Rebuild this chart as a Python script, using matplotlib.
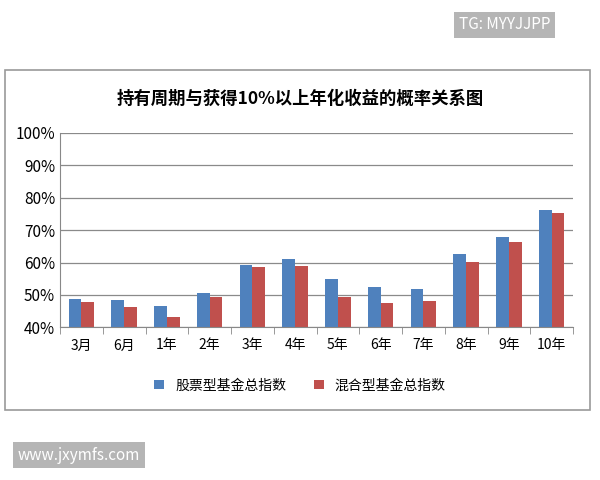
import numpy as np
import matplotlib.pyplot as plt
from matplotlib.patches import Rectangle

plt.rcParams['font.family'] = ['Noto Sans CJK SC', 'DejaVu Sans']

periods = ['3月', '6月', '1年', '2年', '3年', '4年', '5年', '6年', '7年', '8年', '9年', '10年']
stock = [48.7, 48.4, 46.6, 50.5, 59.4, 61.2, 55.0, 52.6, 51.8, 62.6, 67.9, 76.2]
mixed = [47.7, 46.3, 43.2, 49.4, 58.5, 58.8, 49.4, 47.4, 48.0, 60.1, 66.2, 75.4]
yticks = [40, 50, 60, 70, 80, 90, 100]

fig = plt.figure(figsize=(6, 4.8), dpi=100)
fig.patches.append(Rectangle((0.008, 0.145), 0.975, 0.71, transform=fig.transFigure,
                             fill=False, edgecolor='#9a9a9a', lw=1.2))
ax = fig.add_axes([0.1, 0.318, 0.855, 0.405])

x = np.arange(len(periods))
w = 0.3
ax.bar(x - w / 2, stock, w, color='#4f81bd', label='股票型基金总指数')
ax.bar(x + w / 2, mixed, w, color='#c0504d', label='混合型基金总指数')
ax.set_ylim(40, 100)
ax.set_xlim(-0.5, len(periods) - 0.5)
ax.set_yticks(yticks)
ax.set_yticklabels([f'{t}%' for t in yticks], fontsize=11)
ax.set_xticks(x)
ax.set_xticklabels(periods, fontsize=10)
ax.set_xticks(np.arange(len(periods) + 1) - 0.5, minor=True)
ax.tick_params(axis='x', which='major', length=0, pad=8)
ax.tick_params(axis='x', which='minor', length=5, color='#888888')
ax.tick_params(axis='y', length=0)
ax.yaxis.grid(True, color='#8a8a8a', lw=0.9)
ax.set_axisbelow(True)
for s in ['top', 'right']:
    ax.spines[s].set_visible(False)
ax.spines['left'].set_color('#888888')
ax.spines['bottom'].set_color('#888888')

fig.text(0.5, 0.795, '持有周期与获得10%以上年化收益的概率关系图', ha='center', va='center',
         fontsize=12.5, fontweight='bold')
fig.legend(loc='center', bbox_to_anchor=(0.5, 0.197), ncol=2, frameon=False,
           fontsize=10, handlelength=0.7, handleheight=0.7, columnspacing=2)

fig.text(0.765, 0.948, 'TG: MYYJJPP', fontsize=11, color='white', va='center',
         bbox=dict(boxstyle='square,pad=0.3', fc='#b5b5b5', ec='none'))
fig.text(0.03, 0.052, 'www.jxymfs.com', fontsize=11, color='white', va='center',
         bbox=dict(boxstyle='square,pad=0.3', fc='#b5b5b5', ec='none'))

fig.savefig('out.png', dpi=100)
